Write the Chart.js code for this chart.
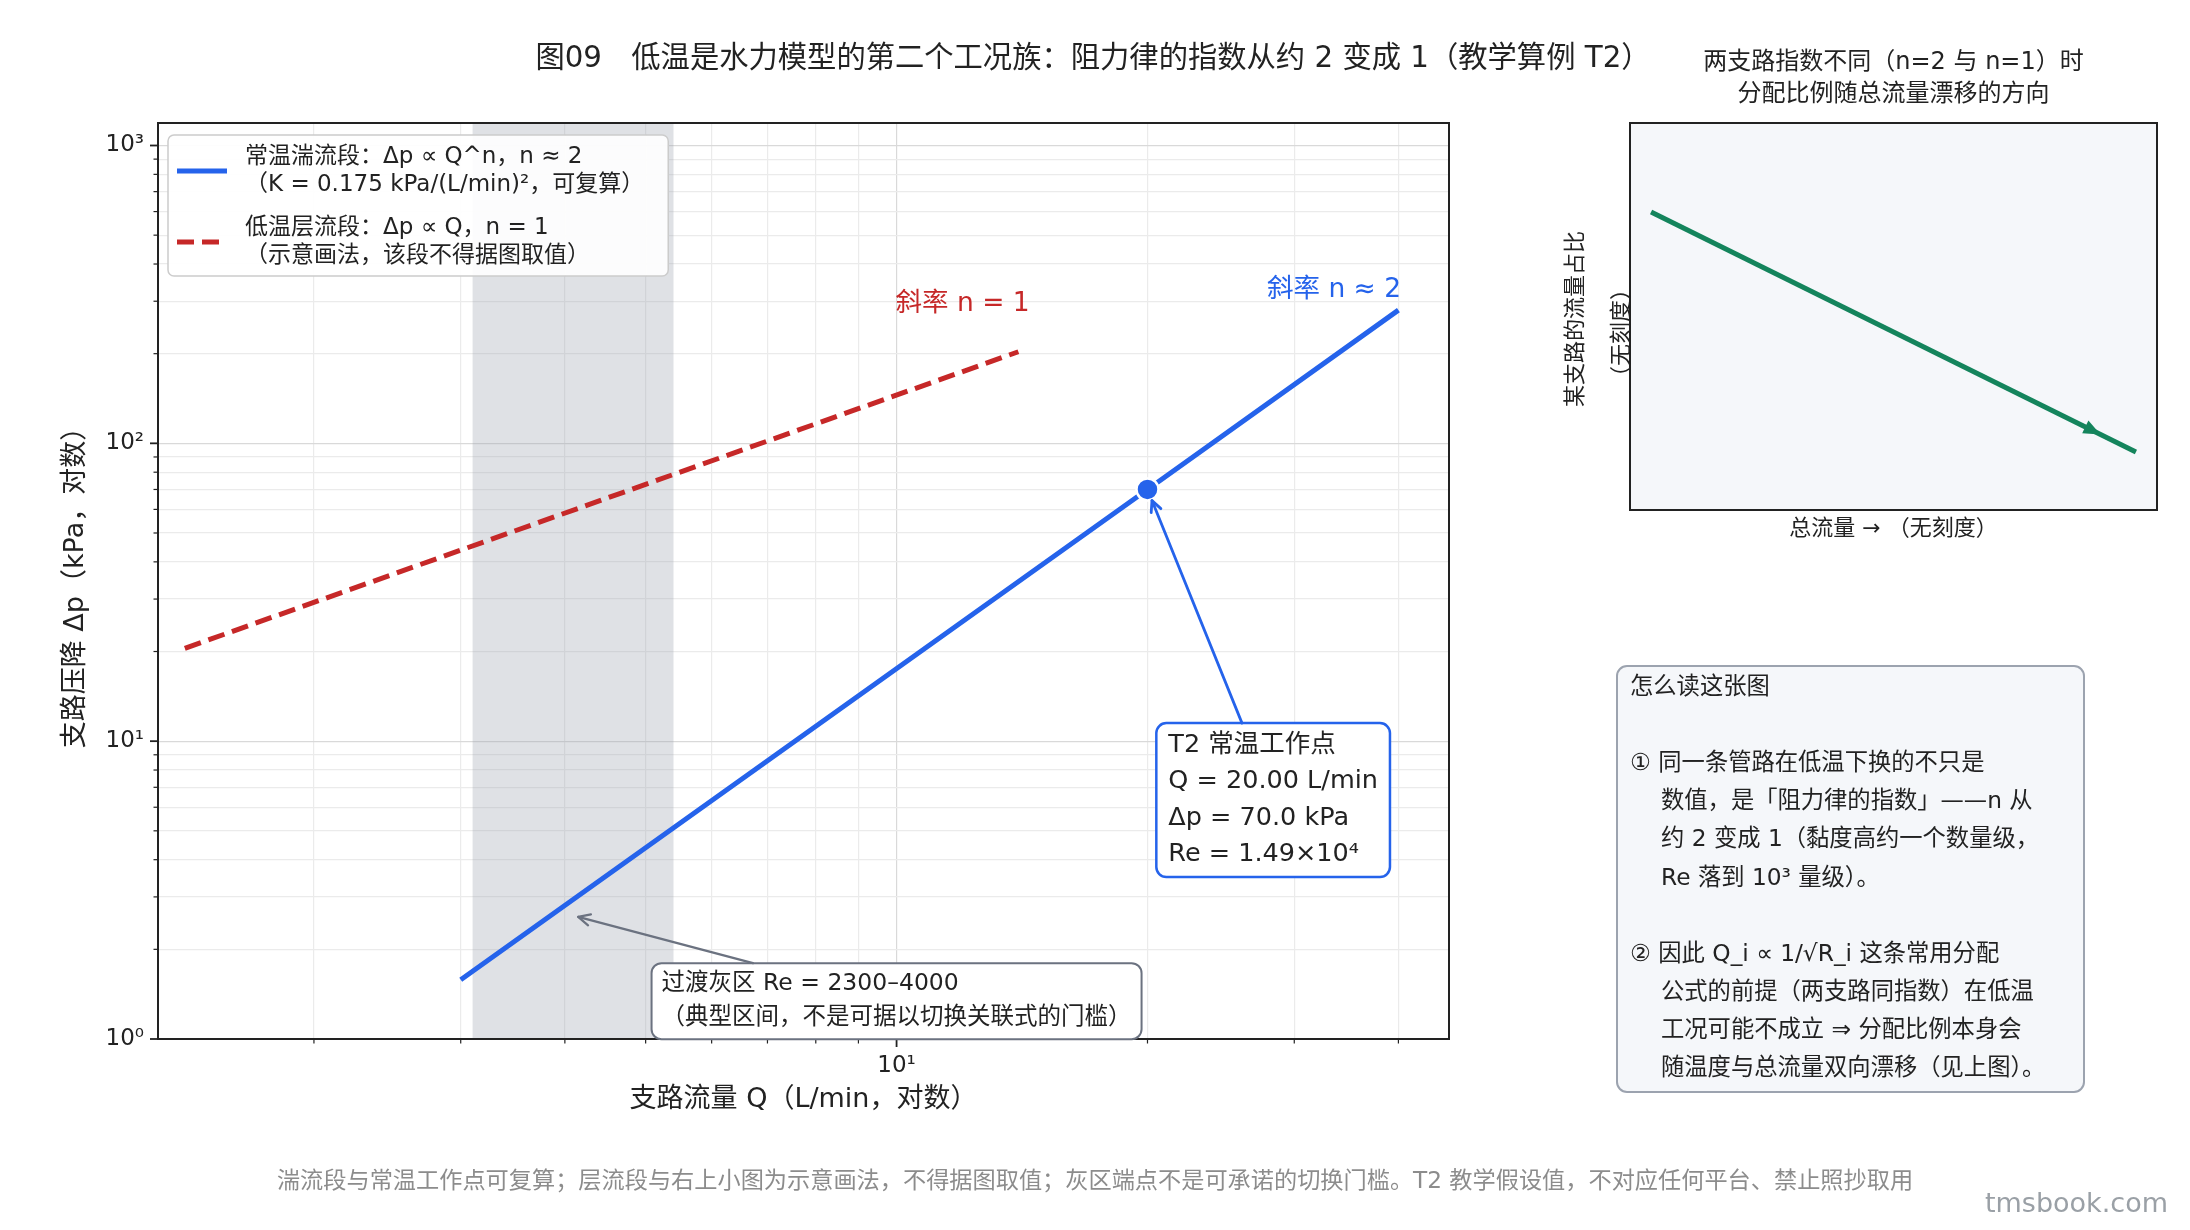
<!DOCTYPE html>
<html>
<head>
<meta charset="utf-8">
<script src="https://cdn.jsdelivr.net/npm/chart.js@4.4.1/dist/chart.umd.min.js"></script>
<style>
html, body { margin: 0; padding: 0; background: #fff; }
#wrap { position: relative; width: 2190px; height: 1230px; }
#main { position: absolute; left: 0; top: 0; }
#inset { position: absolute; left: 1540px; top: 0; }
</style>
</head>
<body>
<div id="wrap">
  <canvas id="main" width="2190" height="1230"></canvas>
  <canvas id="inset" width="650" height="600"></canvas>
</div>
<script>
// 图09 低温工况族 —— 数据
const turbQ = [3, 20, 40];          // 常温湍流段 L/min
const turbDp = [1.58, 70, 280];     // kPa
const lamQ = [1.4, 14];             // 低温层流段（示意）
const lamDp = [20.5, 203];
const opQ = [20];                   // T2 常温工作点
const opDp = [70];
const bandQ = [3.1, 5.4];           // 过渡灰区 Re 2300–4000
const xTicks = [2, 3, 4, 5, 6, 7, 8, 9, 10, 20, 30, 40];
const yTicks = [1, 10, 100].flatMap(d => [1, 2, 3, 4, 5, 6, 7, 8, 9].map(m => m * d)).concat([1000]);
const xRange = [1.3, 46];
const yRange = [1, 1190];

// 右上小图（示意，无刻度）
const shareX = [0.04, 0.96];
const shareY = [0.77, 0.15];

const FONT = "'DejaVu Sans', 'Noto Sans CJK SC', sans-serif";
const INK = '#222222';
const BLUE = '#2563eb';
const RED = '#c62828';
const GREEN = '#14845c';
const GRAY = '#6b7280';

const SUP = {'0': '⁰', '1': '¹', '2': '²', '3': '³', '4': '⁴', '5': '⁵', '6': '⁶', '7': '⁷', '8': '⁸', '9': '⁹'};
const isMajor = v => Math.abs(Math.log10(v) - Math.round(Math.log10(v))) < 1e-9;
const logLabel = v => isMajor(v) ? '10' + String(Math.round(Math.log10(v))).split('').map(c => SUP[c]).join('') : '';
const gridColor = c => c.tick ? (isMajor(c.tick.value) ? '#d9d9d9' : '#ebebeb') : 'transparent';

function arrow(ctx, x0, y0, x1, y1, color, lw, head) {
  const ang = Math.atan2(y1 - y0, x1 - x0);
  ctx.save();
  ctx.strokeStyle = color;
  ctx.lineWidth = lw;
  ctx.lineCap = 'round';
  ctx.lineJoin = 'round';
  ctx.beginPath();
  ctx.moveTo(x0, y0);
  ctx.lineTo(x1, y1);
  ctx.stroke();
  ctx.beginPath();
  ctx.moveTo(x1 - head * Math.cos(ang - 0.45), y1 - head * Math.sin(ang - 0.45));
  ctx.lineTo(x1, y1);
  ctx.lineTo(x1 - head * Math.cos(ang + 0.45), y1 - head * Math.sin(ang + 0.45));
  ctx.stroke();
  ctx.restore();
}

function textBox(ctx, cx, cy, lines, o) {
  ctx.save();
  ctx.font = o.font;
  const w = Math.max(...lines.map(l => ctx.measureText(l).width)) + 2 * o.padX;
  const h = lines.length * o.lh + 2 * o.padY;
  const r = {x: cx - w / 2, y: cy - h / 2, w, h};
  ctx.beginPath();
  ctx.roundRect(r.x, r.y, w, h, o.radius);
  ctx.fillStyle = o.fill;
  ctx.fill();
  ctx.lineWidth = o.lw;
  ctx.strokeStyle = o.stroke;
  ctx.stroke();
  ctx.fillStyle = INK;
  ctx.textBaseline = 'middle';
  ctx.textAlign = 'left';
  lines.forEach((l, i) => ctx.fillText(l, r.x + o.padX, r.y + o.padY + o.lh * (i + 0.5)));
  ctx.restore();
  return r;
}

// arrow starts where the line box-centre -> target leaves the box
function boxEdge(r, tx, ty) {
  const cx = r.x + r.w / 2, cy = r.y + r.h / 2;
  const dx = tx - cx, dy = ty - cy;
  let t = Infinity;
  if (dx) t = Math.min(t, ((dx > 0 ? r.x + r.w : r.x) - cx) / dx);
  if (dy) t = Math.min(t, ((dy > 0 ? r.y + r.h : r.y) - cy) / dy);
  return [cx + dx * t, cy + dy * t];
}

const mainDecor = {
  id: 'mainDecor',
  beforeDatasetsDraw(chart) {
    const {ctx, chartArea: a, scales: {x}} = chart;
    const x0 = x.getPixelForValue(bandQ[0]);
    const x1 = x.getPixelForValue(bandQ[1]);
    ctx.save();
    ctx.fillStyle = 'rgba(156,163,175,0.32)';
    ctx.fillRect(x0, a.top, x1 - x0, a.bottom - a.top);
    ctx.restore();
  },
  afterDatasetsDraw(chart) {
    const {ctx, chartArea: a, scales: {x, y}} = chart;
    ctx.save();
    // frame
    ctx.strokeStyle = INK;
    ctx.lineWidth = 2;
    ctx.strokeRect(a.left, a.top, a.right - a.left, a.bottom - a.top);
    // tick marks
    x.ticks.forEach(t => {
      const px = x.getPixelForValue(t.value);
      const big = isMajor(t.value);
      ctx.lineWidth = big ? 1.8 : 1.2;
      ctx.beginPath();
      ctx.moveTo(px, a.bottom);
      ctx.lineTo(px, a.bottom + (big ? 8 : 4.5));
      ctx.stroke();
    });
    y.ticks.forEach(t => {
      const py = y.getPixelForValue(t.value);
      const big = isMajor(t.value);
      ctx.lineWidth = big ? 1.8 : 1.2;
      ctx.beginPath();
      ctx.moveTo(a.left, py);
      ctx.lineTo(a.left - (big ? 8 : 4.5), py);
      ctx.stroke();
    });

    // slope labels
    ctx.font = '26.5px ' + FONT;
    ctx.textBaseline = 'middle';
    ctx.fillStyle = RED;
    ctx.textAlign = 'center';
    ctx.fillText('斜率 n = 1', x.getPixelForValue(12), y.getPixelForValue(293));
    ctx.fillStyle = BLUE;
    ctx.textAlign = 'right';
    ctx.fillText('斜率 n ≈ 2', x.getPixelForValue(40.3), y.getPixelForValue(326));
    ctx.restore();

    // T2 operating point annotation
    const px = x.getPixelForValue(opQ[0]), py = y.getPixelForValue(opDp[0]);
    const r1 = textBox(ctx, x.getPixelForValue(28.3), y.getPixelForValue(6.34),
      ['T2 常温工作点', 'Q = 20.00 L/min', 'Δp = 70.0 kPa', 'Re = 1.49×10⁴'],
      {font: '25.5px ' + FONT, padX: 12, padY: 4, lh: 36.5, radius: 10, fill: '#ffffff', stroke: BLUE, lw: 2.5});
    const [sx, sy] = boxEdge(r1, px, py);
    const d = Math.hypot(px - sx, py - sy);
    arrow(ctx, sx, sy, px - (px - sx) / d * 12, py - (py - sy) / d * 12, BLUE, 2.8, 12);

    // transition band annotation
    const gx = x.getPixelForValue(4.15), gy = y.getPixelForValue(2.57);
    const r2 = textBox(ctx, x.getPixelForValue(10), y.getPixelForValue(1.34),
      ['过渡灰区 Re = 2300–4000', '（典型区间，不是可据以切换关联式的门槛）'],
      {font: '23.5px ' + FONT, padX: 10, padY: 4, lh: 34, radius: 10, fill: '#ffffff', stroke: GRAY, lw: 2});
    const [hx, hy] = boxEdge(r2, gx, gy);
    arrow(ctx, hx, hy, gx, gy, GRAY, 2.2, 13);

    // legend
    ctx.save();
    ctx.font = '23px ' + FONT;
    const leg = [
      {color: BLUE, dash: [], lines: ['常温湍流段：Δp ∝ Q^n，n ≈ 2', '（K = 0.175 kPa/(L/min)²，可复算）']},
      {color: RED, dash: [17, 8], lines: ['低温层流段：Δp ∝ Q，n = 1', '（示意画法，该段不得据图取值）']}
    ];
    const lx = a.left + 10, ly = a.top + 12, lh = 27.5;
    const tw = Math.max(...leg.flatMap(e => e.lines.map(l => ctx.measureText(l).width)));
    ctx.beginPath();
    ctx.roundRect(lx, ly, 77 + tw + 24, 141, 6);
    ctx.fillStyle = 'rgba(255,255,255,0.93)';
    ctx.fill();
    ctx.strokeStyle = '#cccccc';
    ctx.lineWidth = 1.5;
    ctx.stroke();
    leg.forEach((e, i) => {
      const cy = ly + 36 + i * 71;
      ctx.strokeStyle = e.color;
      ctx.lineWidth = 5;
      ctx.setLineDash(e.dash);
      ctx.beginPath();
      ctx.moveTo(lx + 9, cy);
      ctx.lineTo(lx + 59, cy);
      ctx.stroke();
      ctx.setLineDash([]);
      ctx.fillStyle = INK;
      ctx.textAlign = 'left';
      ctx.textBaseline = 'middle';
      e.lines.forEach((l, k) => ctx.fillText(l, lx + 77, cy + (k - 0.5) * lh));
    });
    ctx.restore();
  },
  afterDraw(chart) {
    const {ctx} = chart;
    ctx.save();
    ctx.textBaseline = 'middle';
    ctx.fillStyle = INK;
    ctx.textAlign = 'center';
    ctx.font = '29.3px ' + FONT;
    ctx.fillText('图09　低温是水力模型的第二个工况族：阻力律的指数从约 2 变成 1（教学算例 T2）', 1093, 59);

    // reading notes
    ctx.beginPath();
    ctx.roundRect(1617, 666, 467, 426, 10);
    ctx.fillStyle = '#f5f7fa';
    ctx.fill();
    ctx.strokeStyle = '#9ca3af';
    ctx.lineWidth = 2;
    ctx.stroke();
    const notes = [
      [0, '怎么读这张图'], [0, ''],
      [0, '① 同一条管路在低温下换的不只是'],
      [1, '数值，是「阻力律的指数」——n 从'],
      [1, '约 2 变成 1（黏度高约一个数量级，'],
      [1, 'Re 落到 10³ 量级）。'], [0, ''],
      [0, '② 因此 Q_i ∝ 1/√R_i 这条常用分配'],
      [1, '公式的前提（两支路同指数）在低温'],
      [1, '工况可能不成立 ⇒ 分配比例本身会'],
      [1, '随温度与总流量双向漂移（见上图）。']
    ];
    ctx.font = '23.3px ' + FONT;
    ctx.fillStyle = INK;
    ctx.textAlign = 'left';
    notes.forEach(([ind, t], i) => ctx.fillText(t, 1630 + ind * 31, 688 + i * 38.1));

    // footer
    ctx.textAlign = 'center';
    ctx.fillStyle = '#8c8c8c';
    ctx.font = '23.2px ' + FONT;
    ctx.fillText('湍流段与常温工作点可复算；层流段与右上小图为示意画法，不得据图取值；灰区端点不是可承诺的切换门槛。T2 教学假设值，不对应任何平台、禁止照抄取用', 1095, 1182);
    ctx.textAlign = 'right';
    ctx.fillStyle = '#9aa0a6';
    ctx.font = '27px ' + FONT;
    ctx.fillText('tmsbook.com', 2168, 1205);
    ctx.restore();
  }
};

new Chart(document.getElementById('main'), {
  type: 'scatter',
  data: {
    datasets: [
      {
        label: 'T2 常温工作点',
        data: opQ.map((q, i) => ({x: q, y: opDp[i]})),
        pointRadius: 11,
        pointBackgroundColor: BLUE,
        pointBorderColor: '#ffffff',
        pointBorderWidth: 2.5,
        order: 0
      },
      {
        label: '常温湍流段',
        data: turbQ.map((q, i) => ({x: q, y: turbDp[i]})),
        showLine: true,
        borderColor: BLUE,
        borderWidth: 5,
        pointRadius: 0,
        order: 1
      },
      {
        label: '低温层流段',
        data: lamQ.map((q, i) => ({x: q, y: lamDp[i]})),
        showLine: true,
        borderColor: RED,
        borderWidth: 5,
        borderDash: [17, 8],
        pointRadius: 0,
        order: 2
      }
    ]
  },
  options: {
    responsive: false,
    devicePixelRatio: 1,
    animation: false,
    events: [],
    layout: {padding: {top: 123, right: 741, bottom: 0, left: 0}},
    plugins: {legend: {display: false}, tooltip: {enabled: false}},
    scales: {
      x: {
        type: 'logarithmic',
        min: xRange[0],
        max: xRange[1],
        afterBuildTicks: s => { s.ticks = xTicks.map(v => ({value: v})); },
        afterFit: s => { s.height = 191; },
        ticks: {autoSkip: false, maxRotation: 0, padding: 13, color: INK, font: {family: FONT, size: 23}, callback: v => logLabel(v)},
        grid: {drawTicks: false, color: gridColor, lineWidth: 1.2},
        border: {display: false},
        title: {display: true, text: '支路流量 Q（L/min，对数）', color: INK, font: {family: FONT, size: 27}, padding: {top: 0, bottom: 114}}
      },
      y: {
        type: 'logarithmic',
        min: yRange[0],
        max: yRange[1],
        afterBuildTicks: s => { s.ticks = yTicks.map(v => ({value: v})); },
        afterFit: s => { s.width = 158; },
        ticks: {autoSkip: false, padding: 14, color: INK, font: {family: FONT, size: 23}, callback: v => logLabel(v)},
        grid: {drawTicks: false, color: gridColor, lineWidth: 1.2},
        border: {display: false},
        title: {display: true, text: '支路压降 Δp（kPa，对数）', color: INK, font: {family: FONT, size: 27}, padding: {top: 60, bottom: 0}}
      }
    }
  },
  plugins: [mainDecor]
});

// inset: direction of share drift
const insetDecor = {
  id: 'insetDecor',
  beforeDatasetsDraw(chart) {
    const {ctx, chartArea: a} = chart;
    ctx.save();
    ctx.fillStyle = '#f5f7fa';
    ctx.fillRect(a.left, a.top, a.right - a.left, a.bottom - a.top);
    ctx.restore();
  },
  afterDatasetsDraw(chart) {
    const {ctx, chartArea: a, scales: {x, y}} = chart;
    ctx.save();
    ctx.strokeStyle = INK;
    ctx.lineWidth = 2;
    ctx.strokeRect(a.left, a.top, a.right - a.left, a.bottom - a.top);
    // arrow head near the end of the line
    const x0 = x.getPixelForValue(shareX[0]), y0 = y.getPixelForValue(shareY[0]);
    const x1 = x.getPixelForValue(shareX[1]), y1 = y.getPixelForValue(shareY[1]);
    const ang = Math.atan2(y1 - y0, x1 - x0);
    const tx = x0 + (x1 - x0) * 0.927, ty = y0 + (y1 - y0) * 0.927;
    ctx.fillStyle = GREEN;
    ctx.beginPath();
    ctx.moveTo(tx, ty);
    ctx.lineTo(tx - 17 * Math.cos(ang) + 7 * Math.sin(ang), ty - 17 * Math.sin(ang) - 7 * Math.cos(ang));
    ctx.lineTo(tx - 17 * Math.cos(ang) - 7 * Math.sin(ang), ty - 17 * Math.sin(ang) + 7 * Math.cos(ang));
    ctx.closePath();
    ctx.fill();
    ctx.restore();
  },
  afterDraw(chart) {
    const {ctx, chartArea: a} = chart;
    const cx = (a.left + a.right) / 2;
    ctx.save();
    ctx.fillStyle = INK;
    ctx.textAlign = 'center';
    ctx.textBaseline = 'middle';
    ctx.font = '24px ' + FONT;
    ctx.fillText('两支路指数不同（n=2 与 n=1）时', cx, 63);
    ctx.fillText('分配比例随总流量漂移的方向', cx, 95);
    ctx.font = '22px ' + FONT;
    ctx.fillText('总流量 → （无刻度）', cx, a.bottom + 19);
    ctx.translate(a.left - 54, a.top + 196);
    ctx.rotate(-Math.PI / 2);
    ctx.fillText('某支路的流量占比', 0, 0);
    ctx.restore();
    ctx.save();
    ctx.fillStyle = INK;
    ctx.textAlign = 'center';
    ctx.textBaseline = 'middle';
    ctx.font = '22px ' + FONT;
    ctx.translate(a.left - 8, a.top + 210);
    ctx.rotate(-Math.PI / 2);
    ctx.fillText('（无刻度）', 0, 0);
    ctx.restore();
  }
};

new Chart(document.getElementById('inset'), {
  type: 'scatter',
  data: {
    datasets: [{
      label: '某支路的流量占比',
      data: shareX.map((v, i) => ({x: v, y: shareY[i]})),
      showLine: true,
      borderColor: GREEN,
      borderWidth: 5,
      pointRadius: 0
    }]
  },
  options: {
    responsive: false,
    devicePixelRatio: 1,
    animation: false,
    events: [],
    layout: {padding: {top: 123, right: 33, bottom: 90, left: 90}},
    plugins: {legend: {display: false}, tooltip: {enabled: false}},
    scales: {
      x: {type: 'linear', display: false, min: 0, max: 1},
      y: {type: 'linear', display: false, min: 0, max: 1}
    }
  },
  plugins: [insetDecor]
});
</script>
</body>
</html>
